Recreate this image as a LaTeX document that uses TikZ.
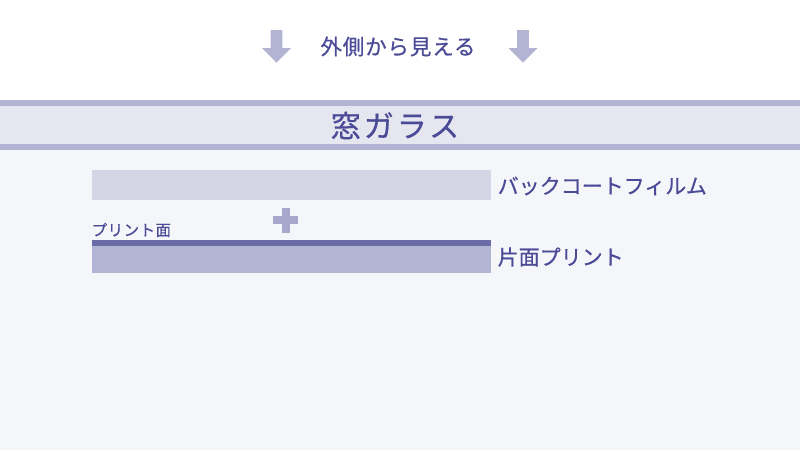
\documentclass[tikz,border=0pt]{standalone}
\usepackage{fontspec}
\newfontfamily\jp[FakeBold=0.5]{Noto Sans CJK JP}
\newfontfamily\jpwide[FakeBold=0.5,LetterSpace=4]{Noto Sans CJK JP}
\newfontfamily\jpglass[FakeBold=0.6,LetterSpace=10]{Noto Sans CJK JP}
\newfontfamily\jpsmall[FakeBold=0.4,LetterSpace=3]{Noto Sans CJK JP}
\definecolor{stripe}{HTML}{B3B3D3}
\definecolor{band}{HTML}{E6E6F1}
\definecolor{lowbg}{HTML}{F5F6FA}
\definecolor{film}{HTML}{D5D5E6}
\definecolor{printbar}{HTML}{B3B3D3}
\definecolor{printline}{HTML}{6B6BA6}
\definecolor{plusc}{HTML}{A8A8CC}
\definecolor{txt}{HTML}{4A4A96}
\tikzset{
  lbl/.style={text=txt, inner sep=0pt},
  blockarrow/.style={fill=stripe, draw=none},
}
\begin{document}
\begin{tikzpicture}[x=1pt,y=-1pt]
\useasboundingbox (0,0) rectangle (800,450);
\fill[white] (0,0) rectangle (800,450);
% glass
\fill[stripe] (0,99.5) rectangle (800,105.5);
\fill[band] (0,105.5) rectangle (800,144.3);
\fill[stripe] (0,144.3) rectangle (800,150);
\fill[lowbg] (0,150) rectangle (800,450);
% arrows
\foreach \cx in {276.5,523} {
  \fill[blockarrow] (\cx-5.8,30) -- (\cx+5.8,30) -- (\cx+5.8,48) -- (\cx+14.5,48)
    -- (\cx,62.7) -- (\cx-14.5,48) -- (\cx-5.8,48) -- cycle;
}
\node[lbl, font=\jpwide\fontsize{21.5}{24}\selectfont] (outside) at (398,46.5) {外側から見える};
\node[lbl, font=\jpglass\fontsize{30}{34}\selectfont] (glass) at (395,125.5) {窓ガラス};
% film
\fill[film] (91.7,170.3) rectangle (491,200);
\node[lbl, anchor=west, font=\jp\fontsize{21}{24}\selectfont] (filmlbl) at (497.5,186) {バックコートフィルム};
% plus
\fill[plusc] (281.5,207.7) rectangle (289.5,232.7);
\fill[plusc] (273,216.2) rectangle (298,224.2);
% print
\fill[printbar] (91.7,246) rectangle (491,273.3);
\fill[printline] (91.7,240.3) rectangle (491,246);
\node[lbl, anchor=west, font=\jpsmall\fontsize{15.5}{18}\selectfont] (printface) at (91.5,230) {プリント面};
\node[lbl, anchor=west, font=\jp\fontsize{21}{24}\selectfont] (printlbl) at (497.5,257) {片面プリント};
\end{tikzpicture}
\end{document}
